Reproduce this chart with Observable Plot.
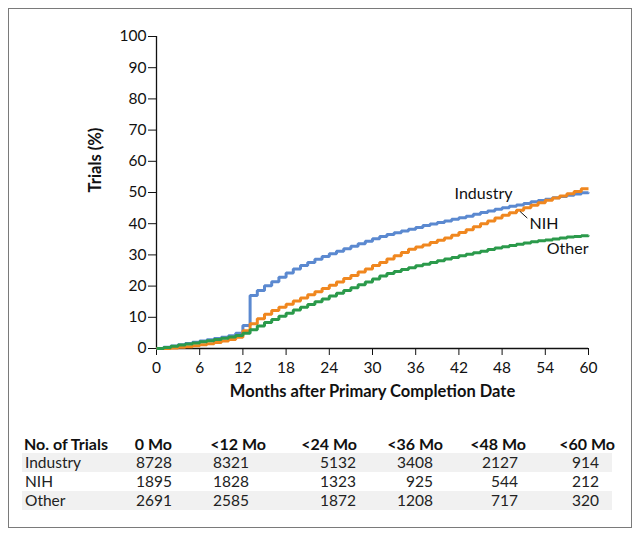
<!DOCTYPE html>
<html>
<head>
<meta charset="utf-8">
<script src="https://cdn.jsdelivr.net/npm/d3@7"></script>
<script src="https://cdn.jsdelivr.net/npm/@observablehq/plot@0.6"></script>
<style>
  body { margin: 0; background: #fff; font-family: Lato, "Open Sans", sans-serif; }
  #wrap { position: relative; width: 643px; height: 537px; overflow: hidden; }
  #frame { position: absolute; left: 8px; top: 8px; width: 624px; height: 520px; box-sizing: border-box; border: 1px solid #7a7a7a; }
  #chart { position: absolute; left: 0; top: 0; }
  .cell { position: absolute; font-size: 15.5px; color: #222; white-space: nowrap; line-height: 19px; }
  .hdr { font-weight: bold; color: #111; font-size: 16px; }
  .band { position: absolute; background: #f1f1f1; height: 19px; }
</style>
</head>
<body>
<div id="wrap">
  <div id="frame"></div>
  <div id="chart"></div>
  <div id="table"></div>
</div>
<script>
// ---- data ----
const months = d3.range(0, 61);
const industry = [0,0.4,0.8,1.2,1.6,2.0,2.4,2.8,3.2,3.6,4.1,4.9,7.4,17.0,18.6,20.1,21.4,22.8,24.2,25.5,26.6,27.6,28.6,29.5,30.4,31.2,32.0,32.8,33.6,34.4,35.2,35.9,36.5,37.1,37.7,38.2,38.8,39.4,39.9,40.4,40.9,41.4,41.9,42.4,43.0,43.6,44.1,44.6,45.1,45.6,46.0,46.5,47.0,47.4,47.8,48.3,48.7,49.1,49.5,49.9,50.0];
const nih = [0,0,0.2,0.4,0.6,0.9,1.2,1.5,1.9,2.4,2.9,3.6,5.7,7.9,9.5,11.0,12.2,13.2,14.2,15.2,16.2,17.2,18.2,19.2,20.3,21.3,22.4,23.4,24.5,25.5,26.6,27.6,28.7,29.7,30.8,31.8,32.5,33.2,34.0,34.7,35.4,36.3,37.2,38.1,39.0,40.0,40.9,41.8,42.7,43.5,44.3,45.1,45.9,46.7,47.5,48.2,48.9,49.6,50.3,51.2,51.2];
const other = [0,0.35,0.7,1.1,1.45,1.8,2.2,2.5,2.9,3.3,3.7,4.15,4.9,6.0,7.2,8.3,9.3,10.3,11.3,12.3,13.2,14.1,15.0,15.9,16.8,17.7,18.6,19.5,20.4,21.3,22.3,23.2,24.0,24.7,25.3,25.9,26.5,27.0,27.6,28.1,28.7,29.2,29.7,30.2,30.7,31.2,31.7,32.2,32.6,33.0,33.4,33.8,34.2,34.5,34.8,35.1,35.4,35.7,35.9,36.1,36.2];
const seriesNames = ["Industry", "NIH", "Other"];
const seriesColors = ["#5b89d0", "#f0871f", "#2b9a4b"];
const xTicks = [0,6,12,18,24,30,36,42,48,54,60];
const yTicks = [0,10,20,30,40,50,60,70,80,90,100];
const xLabel = "Months after Primary Completion Date";
const yLabel = "Trials (%)";
const seriesLabels = [
  {name: "Industry", x: 41.4, y: 49.4, anchor: "start"},
  {name: "NIH", x: 51.8, y: 40.0, anchor: "start"},
  {name: "Other", x: 60, y: 31.8, anchor: "end"}
];
const leader = [{x1: 50.5, y1: 43.9, x2: 51.5, y2: 41.8}];
const tableHeaders = ["No. of Trials", "0 Mo", "<12 Mo", "<24 Mo", "<36 Mo", "<48 Mo", "<60 Mo"];
const tableRows = [
  ["Industry", 8728, 8321, 5132, 3408, 2127, 914],
  ["NIH", 1895, 1828, 1323, 925, 544, 212],
  ["Other", 2691, 2585, 1872, 1208, 717, 320]
];

// ---- chart ----
const rows = [];
[industry, nih, other].forEach((arr, i) => arr.forEach((v, j) => rows.push({series: seriesNames[i], month: months[j], value: v})));

const plot = Plot.plot({
  width: 643,
  height: 410,
  marginLeft: 156,
  marginRight: 55,
  marginTop: 36,
  marginBottom: 62,
  style: {fontFamily: "Lato, 'Open Sans', sans-serif", fontSize: "15px", color: "#111", background: "transparent"},
  x: {domain: [0, 60]},
  y: {domain: [0, 100]},
  color: {domain: seriesNames, range: seriesColors},
  marks: [
    Plot.axisX({ticks: xTicks, tickSize: 7, tickPadding: 6, label: null, fontSize: 15.5, stroke: "#111"}),
    Plot.axisY({ticks: yTicks, tickSize: 8, tickPadding: 2, label: null, fontSize: 15.5, stroke: "#111"}),
    Plot.ruleX([0], {y1: 0, y2: 100, stroke: "#111", strokeWidth: 1.3}),
    Plot.ruleY([0], {x1: 0, x2: 60, stroke: "#111", strokeWidth: 1.3}),
    Plot.line(rows, {x: "month", y: "value", z: "series", stroke: "series", curve: "step-after", strokeWidth: 3, strokeLinejoin: "miter", strokeLinecap: "butt"}),
    Plot.text(seriesLabels.filter(d => d.anchor === "start"), {x: "x", y: "y", text: "name", textAnchor: "start", fontSize: 16, fill: "#111"}),
    Plot.text(seriesLabels.filter(d => d.anchor === "end"), {x: "x", y: "y", text: "name", textAnchor: "end", fontSize: 16, fill: "#111"}),
    Plot.link(leader, {x1: "x1", y1: "y1", x2: "x2", y2: "y2", stroke: "#111", strokeWidth: 1}),
    Plot.text([xLabel], {frameAnchor: "bottom", dy: 48, fontWeight: "bold", fontSize: 16.5, fill: "#111"}),
    Plot.text([yLabel], {frameAnchor: "left", dx: -61, rotate: -90, fontWeight: "bold", fontSize: 16.5, fill: "#111"})
  ]
});
document.getElementById("chart").appendChild(plot);

// ---- table ----
const table = document.getElementById("table");
const headerRight = [null, 172, 266, 357, 443, 526, 615];
const numRight = [null, 172, 249, 356, 433, 518, 599];
const rowTop = [434, 453, 472, 491];
[0, 2].forEach(r => {
  const b = document.createElement("div");
  b.className = "band";
  b.style.left = "22px"; b.style.width = "590px"; b.style.top = rowTop[r + 1] + "px";
  table.appendChild(b);
});
function cell(text, top, left, right, cls) {
  const d = document.createElement("div");
  d.className = "cell" + (cls ? " " + cls : "");
  d.textContent = text;
  d.style.top = top + "px";
  if (left != null) d.style.left = left + "px";
  else d.style.right = (643 - right) + "px";
  table.appendChild(d);
}
tableHeaders.forEach((h, i) => cell(h, rowTop[0], i === 0 ? 24 : null, headerRight[i], "hdr"));
tableRows.forEach((row, r) => row.forEach((v, i) => cell(String(v), rowTop[r + 1], i === 0 ? 25 : null, numRight[i])));
</script>
</body>
</html>
